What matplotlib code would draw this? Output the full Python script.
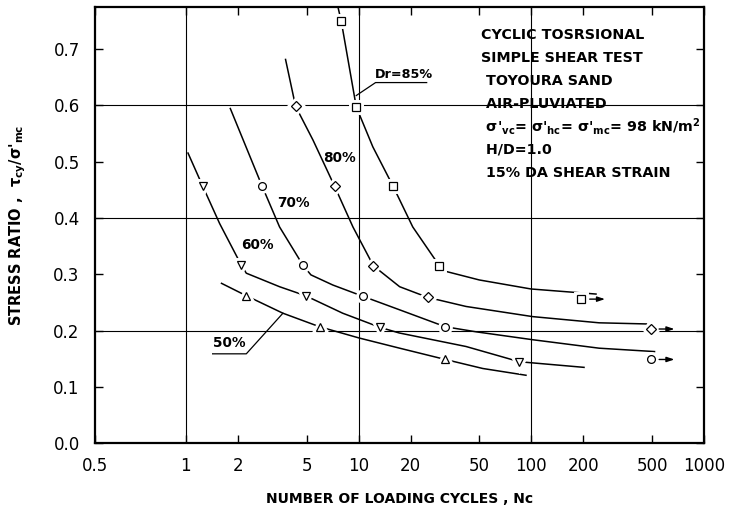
"""Cyclic torsional simple shear test: stress ratio vs number of loading cycles
for Toyoura sand at different relative densities."""
import matplotlib
matplotlib.use("Agg")
import matplotlib.pyplot as plt
from matplotlib.ticker import FixedLocator, FixedFormatter, NullLocator
from matplotlib.transforms import offset_copy

plt.rcParams["font.family"] = ["DejaVu Sans"]
plt.rcParams["mathtext.fontset"] = "custom"
plt.rcParams["mathtext.rm"] = "DejaVu Sans:bold"
plt.rcParams["mathtext.it"] = "DejaVu Sans:bold"
plt.rcParams["mathtext.bf"] = "DejaVu Sans:bold"

# --- test results (markers) ------------------------------------------------
nc_85 = [7.94, 9.7, 15.8, 29.4, 195]
sr_85 = [0.749, 0.597, 0.457, 0.315, 0.256]
nc_80 = [4.32, 7.27, 12.2, 25.2, 492]
sr_80 = [0.598, 0.456, 0.315, 0.259, 0.203]
nc_70 = [2.76, 4.77, 10.6, 31.8, 492]
sr_70 = [0.457, 0.316, 0.261, 0.207, 0.149]
nc_60 = [1.25, 2.09, 4.94, 13.3, 85.3]
sr_60 = [0.457, 0.317, 0.262, 0.206, 0.145]
nc_50 = [2.24, 5.95, 31.8]
sr_50 = [0.262, 0.207, 0.149]

# --- hand-drawn fitted curves -----------------------------------------------
cx_85 = [7.6, 7.94, 9.7, 12.1, 15.8, 20.6, 29.4, 32.2, 50.0, 99.6, 237]
cy_85 = [0.774, 0.749, 0.597, 0.526, 0.457, 0.384, 0.315, 0.305, 0.290, 0.274, 0.265]
cx_80 = [3.78, 4.32, 5.45, 7.27, 9.28, 12.2, 17.3, 25.2, 41.9, 101.8, 247, 464]
cy_80 = [0.681, 0.598, 0.538, 0.456, 0.384, 0.315, 0.278, 0.259, 0.243, 0.225, 0.214, 0.212]
cx_70 = [1.81, 2.76, 3.49, 4.77, 5.3, 7.1, 10.6, 17.3, 31.8, 48, 102, 247, 517]
cy_70 = [0.594, 0.457, 0.384, 0.316, 0.299, 0.281, 0.261, 0.237, 0.207, 0.198, 0.184, 0.169, 0.163]
cx_60 = [1.03, 1.25, 1.57, 2.09, 2.24, 3.49, 4.94, 8.1, 13.3, 17.2, 41.9, 85.3, 202]
cy_60 = [0.515, 0.457, 0.390, 0.317, 0.302, 0.278, 0.262, 0.231, 0.206, 0.196, 0.172, 0.145, 0.135]
cx_50 = [1.61, 2.24, 3.65, 5.95, 10.1, 17.3, 31.8, 52.4, 93.2]
cy_50 = [0.284, 0.262, 0.231, 0.207, 0.187, 0.169, 0.149, 0.133, 0.121]

# axis: origin is labelled "0.5" in the original (broken log axis)
x_left = 0.298
xtick_vals = [x_left, 1, 2, 5, 10, 20, 50, 100, 200, 500, 1000]
xtick_labels = ["0.5", "1", "2", "5", "10", "20", "50", "100", "200", "500", "1000"]
ytick_vals = [0.0, 0.1, 0.2, 0.3, 0.4, 0.5, 0.6, 0.7]
grid_x = [1, 10, 100]
grid_y = [0.2, 0.4, 0.6]

info_lines = [
    "CYCLIC TOSRSIONAL",
    "SIMPLE SHEAR TEST",
    " TOYOURA SAND",
    " AIR-PLUVIATED",
    " σ'$_{vc}$= σ'$_{hc}$= σ'$_{mc}$= 98 kN/m$^2$",
    " H/D=1.0",
    " 15% DA SHEAR STRAIN",
]

fig = plt.figure(figsize=(7.3, 5.11), dpi=100)
ax = fig.add_axes([0.1301, 0.1321, 0.8343, 0.8542])
ax.set_xscale("log")
ax.set_xlim(x_left, 1000)
ax.set_ylim(0, 0.774)

for gx in grid_x:
    ax.axvline(gx, color="black", lw=0.8, zorder=1)
for gy in grid_y:
    ax.axhline(gy, color="black", lw=0.8, zorder=1)

series = [
    (cx_85, cy_85, nc_85, sr_85, "s", 5.4),
    (cx_80, cy_80, nc_80, sr_80, "D", 5.4),
    (cx_70, cy_70, nc_70, sr_70, "o", 5.6),
    (cx_60, cy_60, nc_60, sr_60, "v", 6.2),
    (cx_50, cy_50, nc_50, sr_50, "^", 6.2),
]
for cx, cy, nx, ny, mk, ms in series:
    ax.plot(cx, cy, color="black", lw=1.1, zorder=2)
    ax.plot(nx, ny, ls="none", marker=mk, ms=ms, mfc="white", mec="white",
            mew=5, zorder=3)
    ax.plot(nx, ny, ls="none", marker=mk, ms=ms, mfc="white", mec="black",
            mew=0.9, zorder=4)

# run-out arrows after the last tests
for nx, ny in [(nc_85[-1], sr_85[-1]), (nc_80[-1], sr_80[-1]), (nc_70[-1], sr_70[-1])]:
    tip = offset_copy(ax.transData, fig=fig, x=17, y=0, units="points")
    ax.annotate("", xy=(nx, ny), xycoords=tip, xytext=(-11, 0),
                textcoords="offset points",
                arrowprops=dict(arrowstyle="-|>,head_length=0.45,head_width=0.15",
                                color="black", lw=1.0, shrinkA=0, shrinkB=0))

# curve labels
lab = dict(fontsize=9.8, fontweight="bold", ha="center", va="center")
ax.text(7.78, 0.506, "80%", **lab)
ax.text(4.17, 0.427, "70%", **lab)
ax.text(2.58, 0.352, "60%", **lab)
ax.text(1.78, 0.178, "50%", **lab)
ax.plot([1.43, 2.24, 3.65], [0.159, 0.159, 0.231], color="black", lw=0.9)
ax.text(12.5, 0.643, "Dr=85%", fontsize=9.2, fontweight="bold", ha="left", va="bottom")
ax.plot([9.7, 12.55, 24.8], [0.617, 0.640, 0.640], color="black", lw=0.9)

# test conditions block
for i, line in enumerate(info_lines):
    ax.text(0.634, 1 - (28 + 23.0 * i) / 436.5, line, transform=ax.transAxes,
            fontsize=10.3, fontweight="bold", ha="left", va="center")

ax.xaxis.set_major_locator(FixedLocator(xtick_vals))
ax.xaxis.set_major_formatter(FixedFormatter(xtick_labels))
ax.xaxis.set_minor_locator(NullLocator())
ax.set_yticks(ytick_vals)
ax.set_yticklabels([f"{v:.1f}" for v in ytick_vals])
ax.tick_params(which="major", direction="in", top=True, right=True,
               length=6, width=1.0, labelsize=12)
ax.tick_params(axis="x", pad=10)
ax.tick_params(axis="y", pad=11)
for s in ax.spines.values():
    s.set_linewidth(1.6)

ax.set_xlabel("NUMBER OF LOADING CYCLES , Nc", fontsize=10, fontweight="bold")
ax.set_ylabel("STRESS RATIO ,  τ$_{cy}$/σ'$_{mc}$", fontsize=10.5,
              fontweight="bold")
ax.xaxis.set_label_coords(0.5, -0.111)
ax.yaxis.set_label_coords(-0.11, 0.5)

fig.savefig("out.png", dpi=100)
